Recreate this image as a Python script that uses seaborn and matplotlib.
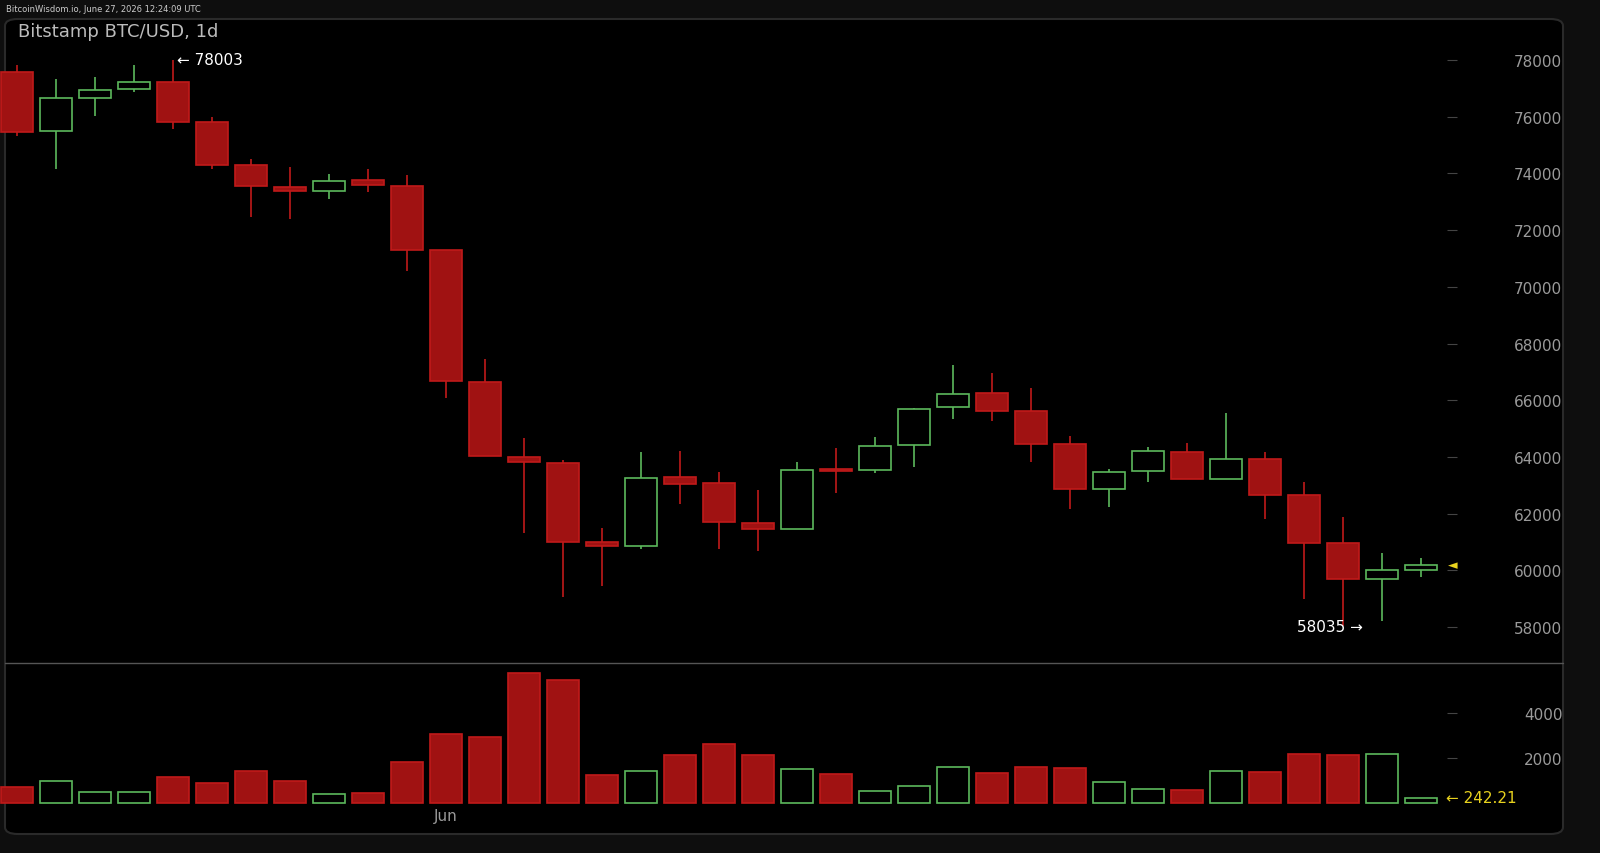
import matplotlib
matplotlib.use("Agg")
import matplotlib.pyplot as plt
import seaborn as sns
import numpy as np
from matplotlib.patches import FancyBboxPatch

opens  = [77577,75496,76660,76980,77220,75810,74300,73520,73380,73770,73560,71300,66640,64000,63790,61000,60860,63290,63080,61670,61460,63580,63540,64420,65760,66250,65620,64450,62870,63500,64170,63220,63930,62660,60960,59690,60010]
closes = [75460,76660,76940,77220,75810,74300,73560,73380,73730,73590,71300,66680,64030,63820,61000,60860,63260,63040,61700,61460,63540,63500,64380,65690,66220,65620,64450,62870,63470,64210,63220,63930,62660,60960,59690,60010,60190]
highs  = [77820,77330,77400,77820,78003,75990,74510,74225,73980,74155,73940,71300,67450,64670,63890,61490,64170,64210,63470,62830,63820,64310,64700,65730,67240,66960,66430,64740,63570,64350,64490,65550,64170,63110,61880,60610,60430]
lows   = [75320,74155,76025,76870,75570,74155,72460,72390,73100,73340,70560,66080,64030,61320,59060,59450,60750,62340,60750,60680,61460,62730,63430,63640,65340,65270,63820,62160,62230,63110,63220,63220,61810,58990,58035,58210,59760]
volumes = [710,980,490,490,1160,890,1420,980,400,440,1820,3070,2930,5780,5470,1240,1420,2130,2620,2130,1510,1290,530,760,1600,1330,1600,1560,930,620,580,1420,1380,2180,2130,2180,242.21]
price_ticks = [58000,60000,62000,64000,66000,68000,70000,72000,74000,76000,78000]
vol_ticks = [2000,4000]

sns.set_style("dark")
RED_F, RED_E, GREEN = "#a01212", "#c01a1a", "#5cb85c"
GRAY = "#9a9a9a"

fig = plt.figure(figsize=(16, 8.54), dpi=100, facecolor="#0e0e0e")
bg = FancyBboxPatch((5/1600, 19/854), 1558/1600, 815/854,
    boxstyle="round,pad=0,rounding_size=0.008", transform=fig.transFigure,
    facecolor="black", edgecolor="#2a2a2a", lw=1.5, zorder=-10)
fig.patches.append(bg)

xl = (-17/39, (1447-17)/39)
axp = fig.add_axes([0, 1-664/854, 1447/1600, 646/854])
axv = fig.add_axes([0, 1-810/854, 1447/1600, 146/854])
n = len(opens)
x = np.arange(n)
up = np.array(closes) >= np.array(opens)

for ax in (axp, axv):
    ax.set_facecolor("none")
    ax.patch.set_alpha(0)
    ax.set_xlim(*xl)
    for s in ax.spines.values():
        s.set_visible(False)
    ax.yaxis.tick_right()
    ax.tick_params(axis="y", colors="#444444", labelcolor=GRAY, length=7, pad=76, labelsize=11)
    ax.set_xticks([])
    ax.grid(False)

w = 0.82
for i in range(n):
    c = GREEN if up[i] else RED_E
    lo, hi = min(opens[i], closes[i]), max(opens[i], closes[i])
    axp.vlines(x[i], lows[i], lo, color=c, lw=1.2)
    axp.vlines(x[i], hi, highs[i], color=c, lw=1.2)
    axp.bar(x[i], max(hi-lo, 60), bottom=lo, width=w,
            facecolor="black" if up[i] else RED_F, edgecolor=c, lw=1.2)
    axv.bar(x[i], volumes[i], width=w, facecolor="black" if up[i] else RED_F, edgecolor=c, lw=1.2)

axp.set_ylim(56730, 79517)
axp.set_yticks(price_ticks)
axp.set_yticklabels([str(t) for t in price_ticks], ha="right")
axv.set_ylim(-267, 6222)
axv.set_yticks(vol_ticks)
axv.set_yticklabels([str(t) for t in vol_ticks], ha="right")

fig.add_artist(plt.Line2D([5/1600, 1563/1600], [1-664/854]*2, color="#555555", lw=1, zorder=-5))
fig.text(6/1600, 1-9/854, "BitcoinWisdom.io, June 27, 2026 12:24:09 UTC", color="#cccccc", fontsize=6, va="center")
fig.text(18/1600, 1-32/854, "Bitstamp BTC/USD, 1d", color="#bbbbbb", fontsize=13, va="center")
axp.annotate("← 78003", (4.1, 78003), color="white", fontsize=11, va="center", ha="left")
axp.annotate("58035 →", (34.5, 58035), color="white", fontsize=11, va="center", ha="right")
axp.annotate("◄", (36.7, closes[-1]), color="#e8d21e", fontsize=9, va="center", ha="left", annotation_clip=False)
axv.annotate("← 242.21", (36.65, 242), color="#e8d21e", fontsize=11, va="center", ha="left", annotation_clip=False)
axv.text(11, -230, "Jun", color=GRAY, fontsize=11, ha="center", va="top", clip_on=False)

fig.savefig("out.png", dpi=100, facecolor=fig.get_facecolor())
